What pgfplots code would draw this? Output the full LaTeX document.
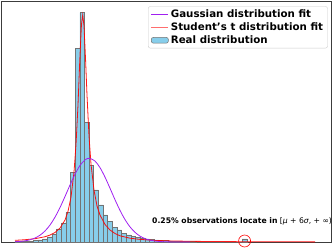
\documentclass[border=0pt]{standalone}
\usepackage{fontspec}
\setmainfont{DejaVu Sans}
\usepackage{pgfplots}
\pgfplotsset{compat=1.18}
\definecolor{barfill}{RGB}{135,206,235}
\definecolor{baredge}{RGB}{115,115,115}
\definecolor{gausscol}{RGB}{160,32,240}
\definecolor{framecol}{RGB}{60,60,60}
\definecolor{legframe}{RGB}{204,204,204}
\definecolor{legred}{RGB}{255,110,110}
\begin{document}
\begin{tikzpicture}
\begin{axis}[
  at={(0,0)}, anchor=south west,
  scale only axis, width=330bp, height=241bp,
  xmin=1, xmax=331, ymin=0, ymax=241,
  xtick=\empty, ytick=\empty,
  axis line style={draw=framecol, line width=0.9bp},
  clip=false,
  legend style={at={(0.99,0.978)}, anchor=north east,
    font=\fontsize{10.3}{11}\selectfont\bfseries,
    draw=legframe, rounded corners=2pt,
    row sep=-0.3pt, inner xsep=2.5pt, inner ysep=1.2pt, cells={anchor=west}},
]
\addlegendimage{draw=gausscol, line width=1.1bp}
\addlegendentry{Gaussian distribution fit}
\addlegendimage{draw=legred, line width=1.1bp}
\addlegendentry{Student's t distribution fit}
\addlegendimage{area legend, fill=barfill, draw=baredge, line width=0.5bp}
\addlegendentry{Real distribution}
\addplot[ybar interval, fill=barfill, draw=baredge, line width=0.5bp, forget plot] coordinates {
(14.86,0.3) (19.5,0.4) (24.14,0.6) (28.78,0.9) (33.42,1.3) (38.06,2.0)
(42.7,3.0) (47.34,5.0) (51.98,8.0) (56.62,13.0) (61.26,19.0) (65.9,29.7)
(70.54,69.7) (75.18,193.7) (79.82,229.3) (84.46,119.7) (89.1,76.3) (93.74,52.0)
(98.38,37.0) (103.02,27.0) (107.66,20.3) (112.3,14.7) (116.94,12.0) (121.58,8.7)
(126.22,7.0) (130.86,5.3) (135.5,4.7) (140.14,3.5) (144.78,3.0) (149.42,2.5)
(154.06,2.0) (158.7,1.7) (163.34,1.4) (167.98,1.1) (172.62,0.9) (177.26,0.7)
(181.9,0.5) (186.54,0.4) (191.18,0.3) (195.82,0) (200.46,0) (205.1,0)
(209.74,0) (214.38,0) (219.02,0) (223.66,0) (228.3,0) (232.94,0) (237.58,0)
(242.22,3.0) (246.86,3.0)
};
\addplot[red, opacity=0.9, line width=0.8bp, forget plot] coordinates {
(15,1.65) (25,2.27) (35,3.31) (45,5.25) (50,6.92) (55,9.53) (60,13.9) (65,22.0)
(68,30.6) (71,44.8) (74,69.9) (76,97.3) (78,137) (80,187) (81.5,218) (82.7,227)
(84,216) (85.5,184) (87,147) (89,106) (91,78) (94,52) (97,36) (100,27)
(105,17.5) (110,12) (115,8.5) (120,6.2) (130,3.8) (140,2.6) (155,1.6) (170,1.1)
(190,0.7) (220,0.42) (260,0.25) (315,0.14)
};
\addplot[gausscol, line width=0.8bp, smooth, forget plot] coordinates {
(15,0.28) (20,0.59) (25,1.17) (30,2.21) (35,3.98) (40,6.80) (45,11.02) (50,16.97)
(55,24.83) (60,34.48) (65,45.48) (70,56.97) (75,67.76) (80,76.54) (85,82.12)
(89.3,83.7) (95,80.94) (100,74.36) (105,64.88) (110,53.76) (115,42.30) (120,31.61)
(125,22.44) (130,15.12) (135,9.68) (140,5.88) (145,3.39) (150,1.86) (155,0.97)
(160,0.48) (170,0.10) (190,0.0)
};
\addplot[only marks, mark=o, mark size=6bp, mark options={solid, draw=red, line width=0.6bp}, forget plot] coordinates {(244.6,1.0)};
\node[anchor=west, font=\fontsize{7.7}{9}\selectfont, inner sep=0pt] at (axis cs:152,21)
  {\textbf{0.25\% observations locate in} [\textit{μ} + 6\textit{σ}, + ∞)};
\end{axis}
\pgfresetboundingbox
\useasboundingbox (-1bp,-7bp) rectangle (331bp,242bp);
\end{tikzpicture}
\end{document}
